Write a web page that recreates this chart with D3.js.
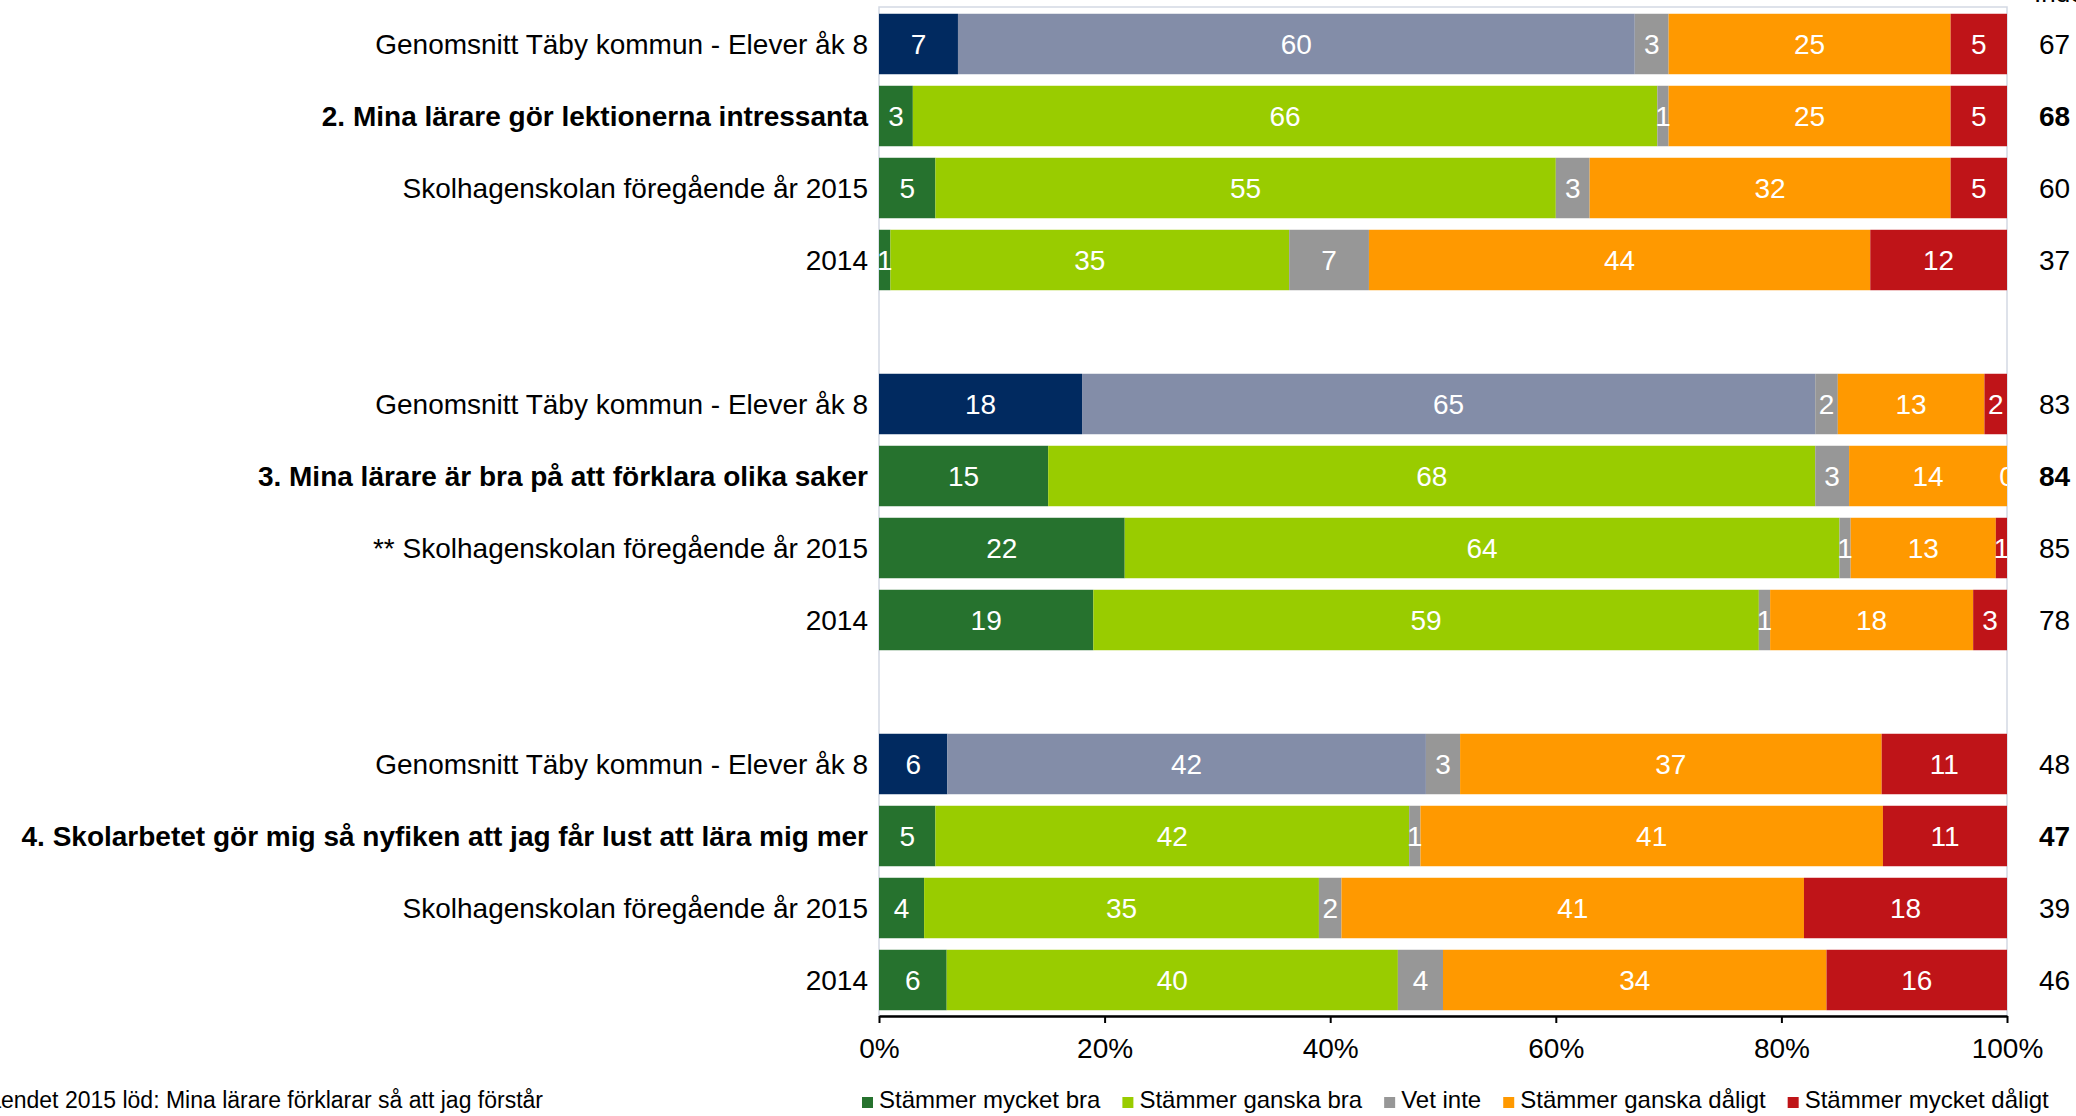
<!DOCTYPE html>
<html>
<head>
<meta charset="utf-8">
<script src="https://cdn.jsdelivr.net/npm/d3@7"></script>
<style>
  body { margin: 0; background: #fff; }
  svg { display: block; font-family: "Liberation Sans", Arial, sans-serif; }
</style>
</head>
<body>
<div id="bar-chart"></div>
<script>
        // rader (uppifrån och ned), "gap" = tom rad mellan grupperna
        const rowLabels = [
            "Genomsnitt Täby kommun - Elever åk 8",
            "2. Mina lärare gör lektionerna intressanta",
            "Skolhagenskolan föregående år 2015",
            "2014",
            "gap1",
            "Genomsnitt Täby kommun - Elever åk 8 ",
            "3. Mina lärare är bra på att förklara olika saker",
            "** Skolhagenskolan föregående år 2015",
            "2014 ",
            "gap2",
            "Genomsnitt Täby kommun - Elever åk 8  ",
            "4. Skolarbetet gör mig så nyfiken att jag får lust att lära mig mer",
            "Skolhagenskolan föregående år 2015 ",
            "2014  "
        ];
        const questionRows = [1, 6, 11];
        const kommunRows = [0, 5, 10];

        // procent per svarsalternativ (12 rader med data)
        const mycketBra    = [7, 3, 5, 1, 18, 15, 22, 19, 6, 5, 4, 6];
        const ganskaBra    = [60, 66, 55, 35, 65, 68, 64, 59, 42, 42, 35, 40];
        const vetInte      = [3, 1, 3, 7, 2, 3, 1, 1, 3, 1, 2, 4];
        const ganskaDaligt = [25, 25, 32, 44, 13, 14, 13, 18, 37, 41, 41, 34];
        const mycketDaligt = [5, 5, 5, 12, 2, 0, 1, 3, 11, 11, 18, 16];

        // index-kolumnen till höger
        const indexValues = [67, 68, 60, 37, 83, 84, 85, 78, 48, 47, 39, 46];

        const seriesNames = ["Stämmer mycket bra", "Stämmer ganska bra", "Vet inte", "Stämmer ganska dåligt", "Stämmer mycket dåligt"];
        const seriesKeys = ["mb", "gb", "vi", "gd", "md"];
        const tickValues = [0, 0.2, 0.4, 0.6, 0.8, 1];

        const colors = ["#26722e", "#99cc00", "#979797", "#ff9900", "#bf1418"];
        const kommunColors = ["#012a60", "#838da8", "#979797", "#ff9900", "#bf1418"];

        const width = 2076;
        const height = 1116;
        const plot = { left: 879, right: 2007, top: 8, bottom: 1016 };

        // bygg tabell till d3.stack
        let dataRows = [];
        let n = 0;
        for (let i = 0; i < rowLabels.length; i++) {
            if (rowLabels[i].startsWith("gap")) continue;
            dataRows.push({
                label: rowLabels[i],
                row: i,
                mb: mycketBra[n], gb: ganskaBra[n], vi: vetInte[n],
                gd: ganskaDaligt[n], md: mycketDaligt[n],
                index: indexValues[n]
            });
            n++;
        }

        const svg = d3.select("#bar-chart")
            .append("svg")
            .attr("width", width)
            .attr("height", height);

        const x = d3.scaleLinear()
            .domain([0, 1])
            .range([plot.left, plot.right]);

        const y = d3.scaleBand()
            .domain(rowLabels)
            .range([plot.top, plot.bottom])
            .paddingInner(0.16)
            .paddingOuter(0.08);

        const stack = d3.stack()
            .keys(seriesKeys)
            .offset(d3.stackOffsetExpand);
        const stacked = stack(dataRows);

        svg.append("clipPath")
            .attr("id", "plotclip")
            .append("rect")
            .attr("x", plot.left)
            .attr("y", plot.top - 1)
            .attr("width", plot.right - plot.left)
            .attr("height", plot.bottom - plot.top + 1);

        // ram runt plotytan
        svg.append("rect")
            .attr("x", plot.left)
            .attr("y", plot.top - 1)
            .attr("width", plot.right - plot.left)
            .attr("height", plot.bottom - plot.top + 1)
            .attr("fill", "none")
            .attr("stroke", "#d3d9e3")
            .attr("stroke-width", 1.5);

        const layers = svg.append("g").selectAll("g")
            .data(stacked)
            .join("g");

        layers.selectAll("rect")
            .data((s, si) => s.map(d => ({ d: d, si: si })))
            .join("rect")
            .attr("x", e => x(e.d[0]))
            .attr("y", e => y(e.d.data.label))
            .attr("width", e => x(e.d[1]) - x(e.d[0]))
            .attr("height", y.bandwidth())
            .attr("fill", e => kommunRows.includes(e.d.data.row) ? kommunColors[e.si] : colors[e.si]);

        // värden i staplarna
        const labelG = svg.append("g").attr("clip-path", "url(#plotclip)");
        stacked.forEach(function(s, si) {
            labelG.selectAll(null)
                .data(s)
                .join("text")
                .attr("x", d => (x(d[0]) + x(d[1])) / 2)
                .attr("y", d => y(d.data.label) + y.bandwidth() / 2)
                .attr("dy", "0.36em")
                .attr("text-anchor", "middle")
                .attr("fill", "#fff")
                .style("font-size", "28px")
                .text(d => d.data[seriesKeys[si]]);
        });

        // radetiketter till vänster
        svg.append("g").selectAll("text")
            .data(dataRows)
            .join("text")
            .attr("x", plot.left - 11)
            .attr("y", d => y(d.label) + y.bandwidth() / 2)
            .attr("dy", "0.36em")
            .attr("text-anchor", "end")
            .style("font-size", "28px")
            .style("font-weight", d => questionRows.includes(d.row) ? "bold" : "normal")
            .attr("fill", "#000")
            .text(d => d.label.trim());

        // index till höger
        svg.append("g").selectAll("text")
            .data(dataRows)
            .join("text")
            .attr("x", 2039)
            .attr("y", d => y(d.label) + y.bandwidth() / 2)
            .attr("dy", "0.36em")
            .style("font-size", "28px")
            .style("font-weight", d => questionRows.includes(d.row) ? "bold" : "normal")
            .attr("fill", "#000")
            .text(d => d.index);

        // rubriken ovanför index-kolumnen är avskuren i originalet
        svg.append("text")
            .attr("x", 2034)
            .attr("y", 2)
            .style("font-size", "26px")
            .text("Index");

        // x-akse
        const xAxis = d3.axisBottom(x)
            .tickValues(tickValues)
            .tickFormat(d3.format(".0%"))
            .tickSize(7)
            .tickSizeOuter(0)
            .tickPadding(15);

        const axisG = svg.append("g")
            .attr("transform", "translate(0," + plot.bottom + ")")
            .call(xAxis);
        axisG.select(".domain").attr("stroke", "#000").attr("stroke-width", 2.5);
        axisG.selectAll(".tick line").attr("stroke", "#000").attr("stroke-width", 2);
        axisG.selectAll(".tick text")
            .attr("fill", "#000")
            .style("font-size", "28px")
            .style("font-family", "'Liberation Sans', Arial, sans-serif");

        // fotnot
        svg.append("text")
            .attr("x", 543)
            .attr("y", 1108)
            .attr("text-anchor", "end")
            .style("font-size", "23px")
            .text("** Påståendet 2015 löd: Mina lärare förklarar så att jag förstår");

        // legend
        let lx = 862;
        for (let i = 0; i < seriesNames.length; i++) {
            svg.append("rect")
                .attr("x", lx)
                .attr("y", 1097)
                .attr("width", 11)
                .attr("height", 11)
                .attr("fill", colors[i]);
            const t = svg.append("text")
                .attr("x", lx + 17)
                .attr("y", 1108)
                .style("font-size", "24px")
                .text(seriesNames[i]);
            lx = lx + 17 + t.node().getComputedTextLength() + 22;
        }
</script>
</body>
</html>
